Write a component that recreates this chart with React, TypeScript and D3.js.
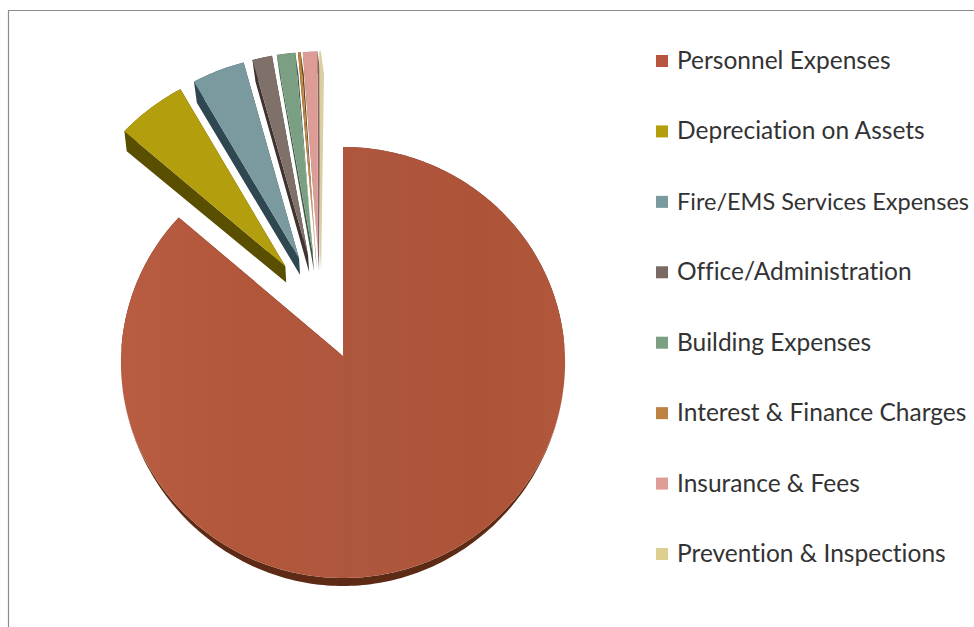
import React from "react";
import * as d3 from "d3";

const categories = [
  "Personnel Expenses",
  "Depreciation on Assets",
  "Fire/EMS Services Expenses",
  "Office/Administration",
  "Building Expenses",
  "Interest & Finance Charges",
  "Insurance & Fees",
  "Prevention & Inspections",
];
const shares = [86.3, 5.3, 4.0, 1.5, 1.4, 0.2, 1.1, 0.1];
const faceColors = ["url(#personnelFace)", "#B39F0E", "#7A9A9F", "#80706A", "#7B9F82", "#BC8240", "#DD9C96", "#DDCF90"];
const sideColors = ["#5C2A15", "#5A4E00", "#2F4750", "#3E332E", "#3F5642", "#6B4518", "#8A6460", "#D6CFA8"];
const legendColors = ["#B9553F", "#B39F0E", "#7A9A9F", "#7A6A63", "#7B9F82", "#BC8240", "#DD9C96", "#DDCF90"];

const WIDTH = 974;
const HEIGHT = 627;
const ORIGIN_X = 343;
const ORIGIN_Y = 356;
const RADIUS = 215.5;
const X_STRETCH = 1.03;
const PERSPECTIVE = 0.00014;
const EXPLODE = 54;
const LEGEND_TEXT_X = 677;
const LONGEST_LABEL = 2;

type Pt = [number, number];

// Ground-plane coordinates to screen: rows further back shrink toward the origin.
function project(wx: number, wy: number): Pt {
  const s = 1 + PERSPECTIVE * wy;
  return [ORIGIN_X + X_STRETCH * wx * s, ORIGIN_Y + wy * s];
}

// Visible extrusion of the disc: thick on the slices pulled to the back,
// fading out at the widest part of the main slice and growing toward its front rim.
function extrude(wx: number, wy: number): Pt {
  const [x, y] = project(wx, wy);
  const t = wy / RADIUS;
  const depth = wy >= 0 ? 8 * t * t : Math.min(1, -wy / 60) * (14 - 0.025 * wy);
  return [x + (wy < 0 ? -wy * 0.01 : 0), y + depth];
}

const slices = d3
  .pie<number>()
  .sort(null)
  .startAngle(0)
  .endAngle(2 * Math.PI)(shares);

const mid = (i: number) => (slices[i].startAngle + slices[i].endAngle) / 2;

// The whole pie is offset so that the exploded first slice keeps its tip on the origin.
const pieCenter: Pt = [-EXPLODE * Math.sin(mid(0)), EXPLODE * Math.cos(mid(0))];

function outline(i: number): Pt[] {
  const s = slices[i];
  const ax = pieCenter[0] + EXPLODE * Math.sin(mid(i));
  const ay = pieCenter[1] - EXPLODE * Math.cos(mid(i));
  const steps = Math.max(2, Math.ceil(((s.endAngle - s.startAngle) * 180) / Math.PI));
  const angle = d3.scaleLinear().domain([0, steps]).range([s.startAngle, s.endAngle]);
  const pts: Pt[] = [[ax, ay]];
  d3.range(steps + 1).forEach((k) => {
    const a = angle(k);
    pts.push([ax + RADIUS * Math.sin(a), ay - RADIUS * Math.cos(a)]);
  });
  return pts;
}

const linePath = d3.line<Pt>().x((d) => d[0]).y((d) => d[1]);

// All wall segments of a slice as one path, each wound the same way so that
// overlapping segments add up under the nonzero rule and no seams appear.
function sidePath(world: Pt[]): string {
  return world
    .map((p, k) => {
      const q = world[(k + 1) % world.length];
      const quad: Pt[] = [project(p[0], p[1]), project(q[0], q[1]), extrude(q[0], q[1]), extrude(p[0], p[1])];
      if (d3.polygonArea(quad) < 0) quad.reverse();
      return linePath(quad) + "Z";
    })
    .join("");
}

const legendY = d3
  .scalePoint<number>()
  .domain(d3.range(categories.length))
  .range([61, 554]);

export default function App() {
  return (
    <svg
      width={WIDTH}
      height={HEIGHT}
      viewBox={`0 0 ${WIDTH} ${HEIGHT}`}
      style={{ position: "absolute", left: 0, top: 0, display: "block", background: "#fff" }}
    >
      <defs>
        <linearGradient id="personnelFace" gradientUnits="userSpaceOnUse" x1={121} x2={566} y1={0} y2={0}>
          <stop offset="0" stopColor="#B85C42" />
          <stop offset="0.3" stopColor="#B2563B" />
          <stop offset="0.55" stopColor="#AE573E" />
          <stop offset="0.8" stopColor="#AD5338" />
          <stop offset="1" stopColor="#B0573C" />
        </linearGradient>
      </defs>
      <path d="M974,10.5H8.5V627" fill="none" stroke="#8C8C8C" strokeWidth={1.2} />
      {slices.map((_, i) => {
        const world = outline(i);
        return (
          <g key={categories[i]}>
            <path d={sidePath(world)} fill={sideColors[i]} />
            <path d={linePath(world.map((p) => project(p[0], p[1]))) + "Z"} fill={faceColors[i]} />
          </g>
        );
      })}
      {categories.map((name, i) => (
        <g key={name}>
          <rect x={656} y={legendY(i)! - 6} width={12} height={12} fill={legendColors[i]} />
          <text
            x={LEGEND_TEXT_X}
            y={legendY(i)! + 8}
            fontFamily="Lato, 'Open Sans', sans-serif"
            fontSize={i === LONGEST_LABEL ? 24 : 24.5}
            fill="#333333"
            style={{ fontVariantLigatures: "none" }}
            // The longest label is fitted to stay inside the right edge of the page.
            textLength={i === LONGEST_LABEL ? WIDTH - 5 - LEGEND_TEXT_X : undefined}
            lengthAdjust={i === LONGEST_LABEL ? "spacingAndGlyphs" : undefined}
          >
            {name}
          </text>
        </g>
      ))}
    </svg>
  );
}
